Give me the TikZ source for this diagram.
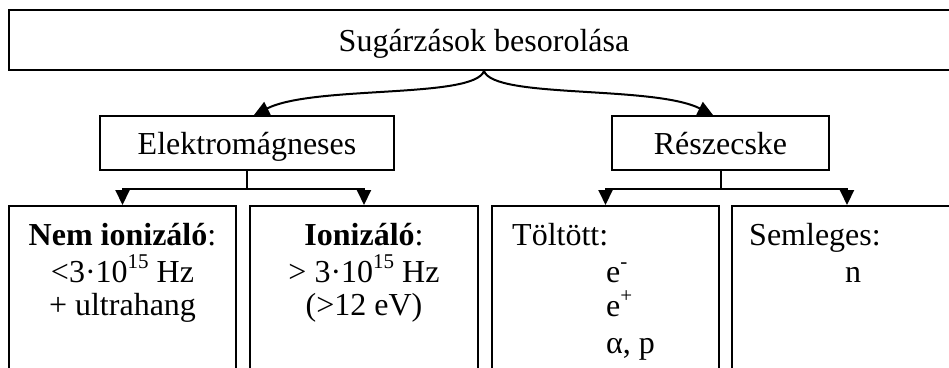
\documentclass[tikz,border=0pt]{standalone}
\usepackage{fontspec}
\setmainfont{Liberation Serif}
\usetikzlibrary{arrows.meta}
\newcommand{\mysup}[1]{\raisebox{0.42em}{\fontsize{21}{21}\selectfont #1}}
\begin{document}
\begin{tikzpicture}[x=1pt,y=-1pt,
  box/.style={draw,line width=2pt,rectangle,inner sep=0pt},
  txt/.style={inner sep=0pt,anchor=base,font=\fontsize{32}{38}\selectfont},
  ltxt/.style={txt,anchor=base west},
  conn/.style={line width=2pt},
  arr/.style={conn,-{Triangle[width=14pt,length=15pt]}}]
\useasboundingbox (0,0) rectangle (949,367);
\clip (0,0) rectangle (949,367);
% boxes
\node[box,minimum width=950pt,minimum height=60pt] (top) at (484,40) {};
\node[box,minimum width=294pt,minimum height=54pt] (elm) at (247,143) {};
\node[box,minimum width=217pt,minimum height=54pt] (res) at (720.5,143) {};
\node[box,minimum width=227pt,minimum height=194pt] (b1) at (122.5,303) {};
\node[box,minimum width=228pt,minimum height=194pt] (b2) at (364,303) {};
\node[box,minimum width=227pt,minimum height=194pt] (b3) at (605.5,303) {};
\node[box,minimum width=230pt,minimum height=194pt] (b4) at (847,303) {};
% texts
\node[txt] (ttop) at (484,51) {Sugárzások besorolása};
\node[txt] (telm) at (247,154) {Elektromágneses};
\node[txt] (tres) at (720.5,154) {Részecske};
\node[txt] (t1a) at (122.5,245) {\textbf{Nem ionizáló}:};
\node[txt] (t1b) at (122.5,282) {<3·10\mysup{15} Hz};
\node[txt] (t1c) at (122.5,315) {+ ultrahang};
\node[txt] (t2a) at (364,245) {\textbf{Ionizáló}:};
\node[txt] (t2b) at (364,282) {> 3·10\mysup{15} Hz};
\node[txt] (t2c) at (364,315) {(>12 eV)};
\node[ltxt] (t3a) at (512,245) {Töltött:};
\node[ltxt] (t3b) at (606,282) {e\mysup{-}};
\node[ltxt] (t3c) at (606,316) {e\mysup{+}};
\node[ltxt] (t3d) at (606,353) {α, p};
\node[ltxt] (t4a) at (749,245) {Semleges:};
\node[ltxt] (t4b) at (845,282) {n};
% connectors
\draw[arr] (top.south) .. controls +(-10,28) and +(60,-30) .. ([xshift=7pt]elm.north);
\draw[arr] (top.south) .. controls +(10,28) and +(-60,-30) .. ([xshift=-7.5pt]res.north);
\draw[conn] (elm.south) -- ++(0,18) coordinate (ej);
\draw[arr] (ej) -| (b1.north);
\draw[arr] (ej) -| (b2.north);
\draw[conn] (res.south) -- ++(0,18) coordinate (rj);
\draw[arr] (rj) -| (b3.north);
\draw[arr] (rj) -| (b4.north);
\end{tikzpicture}
\end{document}
